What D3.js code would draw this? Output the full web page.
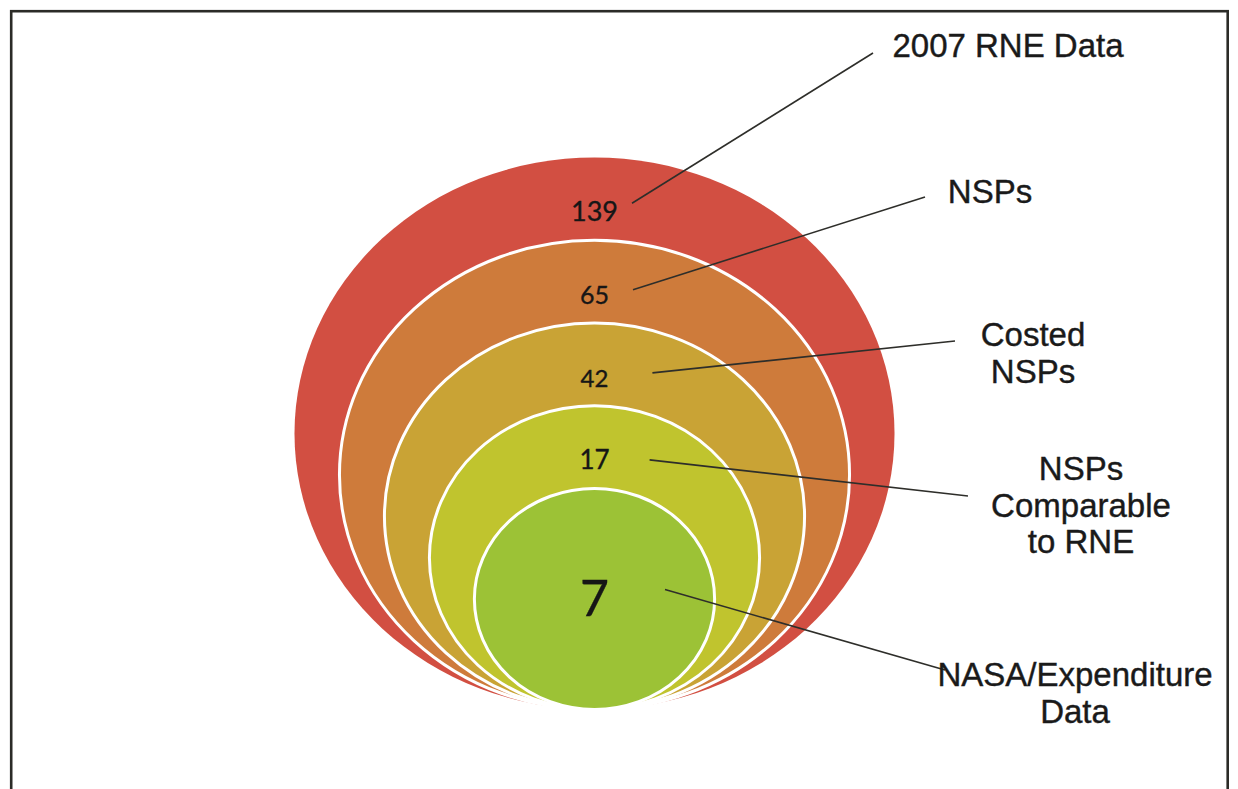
<!DOCTYPE html>
<html>
<head>
<meta charset="utf-8">
<script src="https://cdn.jsdelivr.net/npm/d3@7"></script>
<style>
  html, body { margin: 0; padding: 0; background: #ffffff; }
  svg { display: block; }
</style>
</head>
<body>
<svg id="chart" width="1238" height="789"></svg>
<script>
// ---- data ----
const categories = ["2007 RNE Data", "NSPs", "Costed NSPs", "NSPs Comparable to RNE", "NASA/Expenditure Data"];
const labelLines = [["2007 RNE Data"], ["NSPs"], ["Costed", "NSPs"], ["NSPs", "Comparable", "to RNE"], ["NASA/Expenditure", "Data"]];
const values = [139, 65, 42, 17, 7];
const colors = ["#D24F42", "#CE7B3B", "#C9A335", "#C0C42E", "#9CC236"];

// ---- layout (annotation placement) ----
const labelAnchor = [[1008, 57], [990, 203], [1033, 346], [1081, 480], [1075, 686]];
const leaderEnd = [[873, 53], [925, 197], [955, 341], [968, 496], [945, 670]];
const leaderGap = [14, 24, 44, 40, 56];      // gap between number text and leader start
const leaderDy = [-8, -5, -5, 0, -8];         // vertical offset from number middle
const numberSize = [27, 25, 24, 26, 50];

const svg = d3.select("#chart");

// frame
svg.append("rect")
  .attr("x", 11.2).attr("y", 11.2)
  .attr("width", 1216.5).attr("height", 820)
  .attr("fill", "none")
  .attr("stroke", "#2b2b27")
  .attr("stroke-width", 2.6);

const cx = 594.5, bottomY = 709.5;
const idx = d3.range(values.length);
const ry = d3.scaleLinear().domain([0, values.length - 1]).range([276, 110.5]);
const aspect = 1.087;

svg.append("g").selectAll("ellipse")
  .data(idx)
  .join("ellipse")
  .attr("cx", cx)
  .attr("cy", i => bottomY - ry(i))
  .attr("rx", i => ry(i) * aspect)
  .attr("ry", i => ry(i))
  .attr("fill", i => colors[i])
  .attr("stroke", i => i === 0 ? "none" : "#ffffff")
  .attr("stroke-width", 3);

// number labels
const numG = svg.append("g");
const numData = idx.map(i => {
  const last = i === values.length - 1;
  const top = bottomY - 2 * ry(i);
  const baseline = last ? (bottomY - ry(i)) + numberSize[i] * 0.33 : top + 63.5;
  return { i, baseline, last };
});

numG.selectAll("text")
  .data(numData)
  .join("text")
  .attr("x", cx)
  .attr("y", d => d.baseline)
  .attr("text-anchor", "middle")
  .attr("font-family", "Lato, 'Open Sans', sans-serif")
  .attr("font-size", d => numberSize[d.i])
  .attr("fill", "#161616")
  .attr("stroke", "#161616")
  .attr("stroke-width", 0.35)
  .text(d => values[d.i]);

// leader lines
numG.selectAll("text").each(function(d) {
  const bb = this.getBBox();
  d.x1 = bb.x + bb.width + leaderGap[d.i];
  d.y1 = d.baseline - numberSize[d.i] * 0.36 + leaderDy[d.i];
});

svg.append("g").selectAll("line")
  .data(numData)
  .join("line")
  .attr("x1", d => d.x1)
  .attr("y1", d => d.y1)
  .attr("x2", d => leaderEnd[d.i][0])
  .attr("y2", d => leaderEnd[d.i][1])
  .attr("stroke", "#2e2e2a")
  .attr("stroke-width", 1.6);

// category labels
const lab = svg.append("g")
  .attr("font-family", "'Liberation Sans', Arial, sans-serif")
  .attr("font-size", 33)
  .attr("fill", "#1a1a1a")
  .attr("stroke", "#1a1a1a")
  .attr("stroke-width", 0.4);

lab.selectAll("text")
  .data(idx)
  .join("text")
  .attr("x", i => labelAnchor[i][0])
  .attr("y", i => labelAnchor[i][1])
  .attr("text-anchor", "middle")
  .each(function(i) {
    d3.select(this).selectAll("tspan")
      .data(labelLines[i])
      .join("tspan")
      .attr("x", labelAnchor[i][0])
      .attr("dy", (t, k) => k === 0 ? 0 : 36.5)
      .text(t => t);
  });
</script>
</body>
</html>
